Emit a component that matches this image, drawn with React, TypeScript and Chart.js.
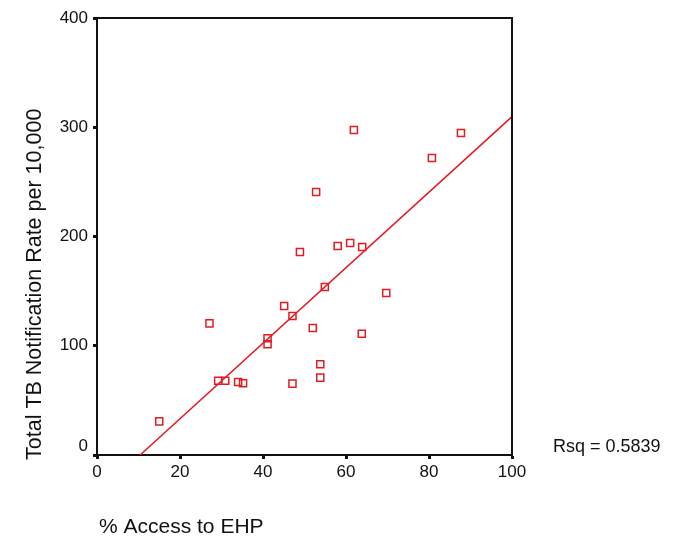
import React, { useEffect, useRef } from "react";
import { Chart, registerables } from "chart.js";

Chart.register(...registerables);

// Scatter data
const accessEHP = [15.0, 27.1, 29.2, 30.9, 34.0, 35.2, 41.1, 41.1, 45.1, 47.1, 47.1, 48.9, 52.0, 52.8, 53.8, 53.8, 54.9, 58.0, 61.0, 61.9, 63.9, 63.8, 69.7, 80.7, 87.7];
const tbRate = [30.8, 120.5, 68.0, 68.0, 66.8, 65.6, 106.8, 101.3, 136.4, 127.2, 65.3, 185.8, 116.2, 240.7, 83.0, 70.8, 153.8, 191.3, 194.0, 297.5, 190.4, 111.0, 148.3, 271.8, 294.7];

// Linear fit
const fitIntercept = -35.9;
const fitSlope = 3.456;
const fitXEnd = 100;
const rsqText = "Rsq = 0.5839";

const xTicks = [0, 20, 40, 60, 80, 100];
const yTicks = [0, 100, 200, 300, 400];

const xTitle = "% Access to EHP";
const yTitle = "Total TB Notification Rate per 10,000";

const RED = "rgb(226,28,34)";
const INK = "#111";
const FONT = "'Liberation Sans', Arial, sans-serif";
const TICK_SIZE = 17;

export default function App() {
  const ref = useRef<HTMLCanvasElement | null>(null);

  useEffect(() => {
    const canvas = ref.current;
    if (!canvas) return;

    const points = accessEHP.map((x, i) => ({ x, y: tbRate[i] }));
    const xStart = -fitIntercept / fitSlope;
    const fitLine = [
      { x: xStart, y: 0 },
      { x: fitXEnd, y: fitIntercept + fitSlope * fitXEnd },
    ];

    const decor = {
      id: "decor",
      afterDraw(chart: any) {
        const { ctx, chartArea: a } = chart;
        ctx.save();
        ctx.strokeStyle = INK;
        ctx.lineWidth = 2;
        ctx.beginPath();
        ctx.moveTo(a.left, a.top);
        ctx.lineTo(a.right, a.top);
        ctx.lineTo(a.right, a.bottom);
        ctx.stroke();

        ctx.fillStyle = INK;

        // y-axis zero label, lifted above the x axis as in the reference
        const ys = chart.scales.y;
        ctx.font = `${TICK_SIZE}px ${FONT}`;
        ctx.textAlign = "right";
        ctx.textBaseline = "middle";
        ctx.fillText(String(yTicks[0]), ys.right - 9, ys.getPixelForValue(yTicks[0]) - 9);

        ctx.font = `21px ${FONT}`;
        ctx.textAlign = "left";
        ctx.textBaseline = "alphabetic";
        ctx.fillText(xTitle, 99, 533);

        ctx.save();
        ctx.font = `21.5px ${FONT}`;
        ctx.translate(41, 460);
        ctx.rotate(-Math.PI / 2);
        ctx.fillText(yTitle, 0, 0);
        ctx.restore();

        ctx.font = `18px ${FONT}`;
        ctx.textBaseline = "middle";
        ctx.fillText(rsqText, 553, 447);
        ctx.restore();
      },
    };

    const chart = new Chart(canvas, {
      type: "scatter",
      data: {
        datasets: [
          {
            data: points,
            pointStyle: "rect",
            pointRadius: 5,
            pointBorderWidth: 1.5,
            borderColor: RED,
            backgroundColor: "rgba(255,255,255,0)",
            order: 1,
          },
          {
            type: "line",
            data: fitLine,
            borderColor: RED,
            borderWidth: 1.5,
            pointRadius: 0,
            fill: false,
            order: 2,
          } as any,
        ],
      },
      options: {
        responsive: false,
        animation: false,
        layout: { padding: { left: 0, top: 18, right: 173, bottom: 0 } },
        plugins: { legend: { display: false }, tooltip: { enabled: false } },
        scales: {
          x: {
            type: "linear",
            min: 0,
            max: 100,
            afterFit: (s: any) => { s.height = 86; },
            afterBuildTicks: (s: any) => { s.ticks = xTicks.map((v) => ({ value: v })); },
            grid: { drawOnChartArea: false, drawTicks: true, tickLength: 4, tickWidth: 3, tickColor: INK },
            border: { display: true, color: INK, width: 2 },
            ticks: { color: INK, font: { family: FONT, size: TICK_SIZE }, padding: 3, maxRotation: 0 },
          },
          y: {
            type: "linear",
            min: 0,
            max: 400,
            afterFit: (s: any) => { s.width = 97; },
            afterBuildTicks: (s: any) => { s.ticks = yTicks.map((v) => ({ value: v })); },
            grid: { drawOnChartArea: false, drawTicks: true, tickLength: 4, tickWidth: 3, tickColor: INK },
            border: { display: true, color: INK, width: 2 },
            ticks: {
              color: (c: any) => (c.tick && c.tick.value === yTicks[0] ? "rgba(0,0,0,0)" : INK),
              font: { family: FONT, size: TICK_SIZE },
              padding: 5,
            },
          },
        },
      },
      plugins: [decor],
    });

    return () => chart.destroy();
  }, []);

  return (
    <div style={{ position: "fixed", left: 0, top: 0, width: 685, height: 541, background: "#fff" }}>
      <canvas ref={ref} width={685} height={541} style={{ width: 685, height: 541, display: "block" }} />
    </div>
  );
}
